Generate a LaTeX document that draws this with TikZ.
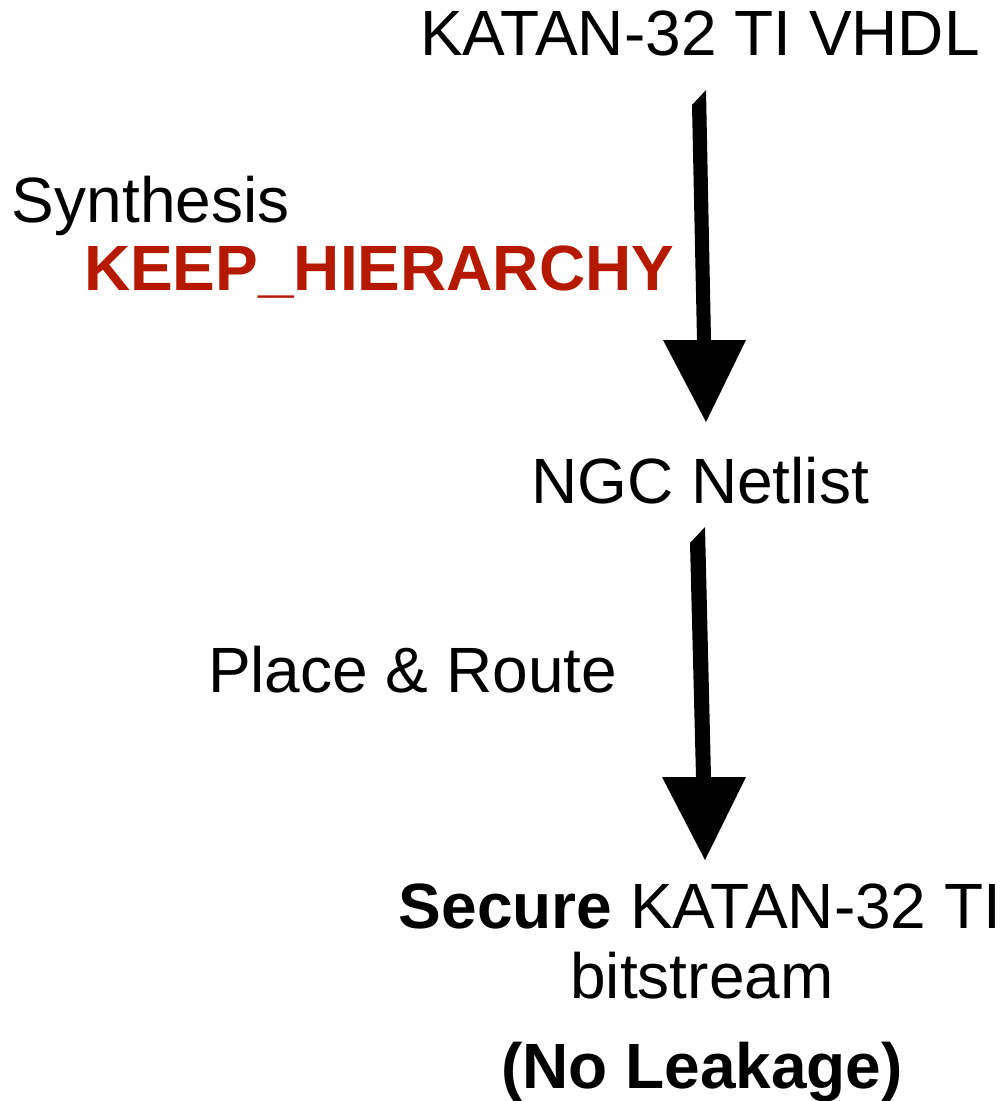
\documentclass[tikz,border=0pt]{standalone}
\usepackage{fontspec}
\setmainfont{Liberation Sans}
\definecolor{keepred}{HTML}{B51A00}
\begin{document}
\begin{tikzpicture}[x=1pt,y=-1pt,
  lbl/.style={inner sep=0pt, outer sep=0pt, font=\fontsize{64}{72}\selectfont},
  flowarrow/.style={fill=black, draw=none}]
\useasboundingbox (0,0) rectangle (1005,1101);

% flow stages
\node[lbl, anchor=base] (src) at (700,55) {KATAN-32 TI VHDL};
\node[lbl, anchor=base] (ngc) at (700,503) {NGC Netlist};
\node[lbl, anchor=base] (sec) at (700,928) {\textbf{Secure} KATAN-32 TI};
\node[lbl, anchor=base] (bit) at (702,998) {bitstream};
\node[lbl, anchor=base] (leak) at (702,1088) {\textbf{(No Leakage)}};

% step labels
\node[lbl, anchor=base west] (synth) at (12,222) {Synthesis};
\node[lbl, anchor=base west, text=keepred] (keep) at (84,290) {\textbf{KEEP\_HIERARCHY}};
\node[lbl, anchor=base west] (pnr) at (208,692) {Place \& Route};

% arrow 1: VHDL -> netlist
\coordinate (a1tl) at (692,105);
\coordinate (a1tr) at (706,90);
\coordinate (a1br) at (711,340);
\coordinate (a1bl) at (697,340);
\coordinate (a1hl) at (663,340);
\coordinate (a1hr) at (746,340);
\coordinate (a1tip) at (706,422);
\fill[flowarrow] (a1tl) -- (a1tr) -- (a1br) -- (a1hr) -- (a1tip) -- (a1hl) -- (a1bl) -- cycle;

% arrow 2: netlist -> bitstream
\coordinate (a2tl) at (690,543);
\coordinate (a2tr) at (705,527);
\coordinate (a2br) at (711,777);
\coordinate (a2bl) at (696,777);
\coordinate (a2hl) at (662,777);
\coordinate (a2hr) at (746,777);
\coordinate (a2tip) at (705,860);
\fill[flowarrow] (a2tl) -- (a2tr) -- (a2br) -- (a2hr) -- (a2tip) -- (a2hl) -- (a2bl) -- cycle;
\end{tikzpicture}
\end{document}
